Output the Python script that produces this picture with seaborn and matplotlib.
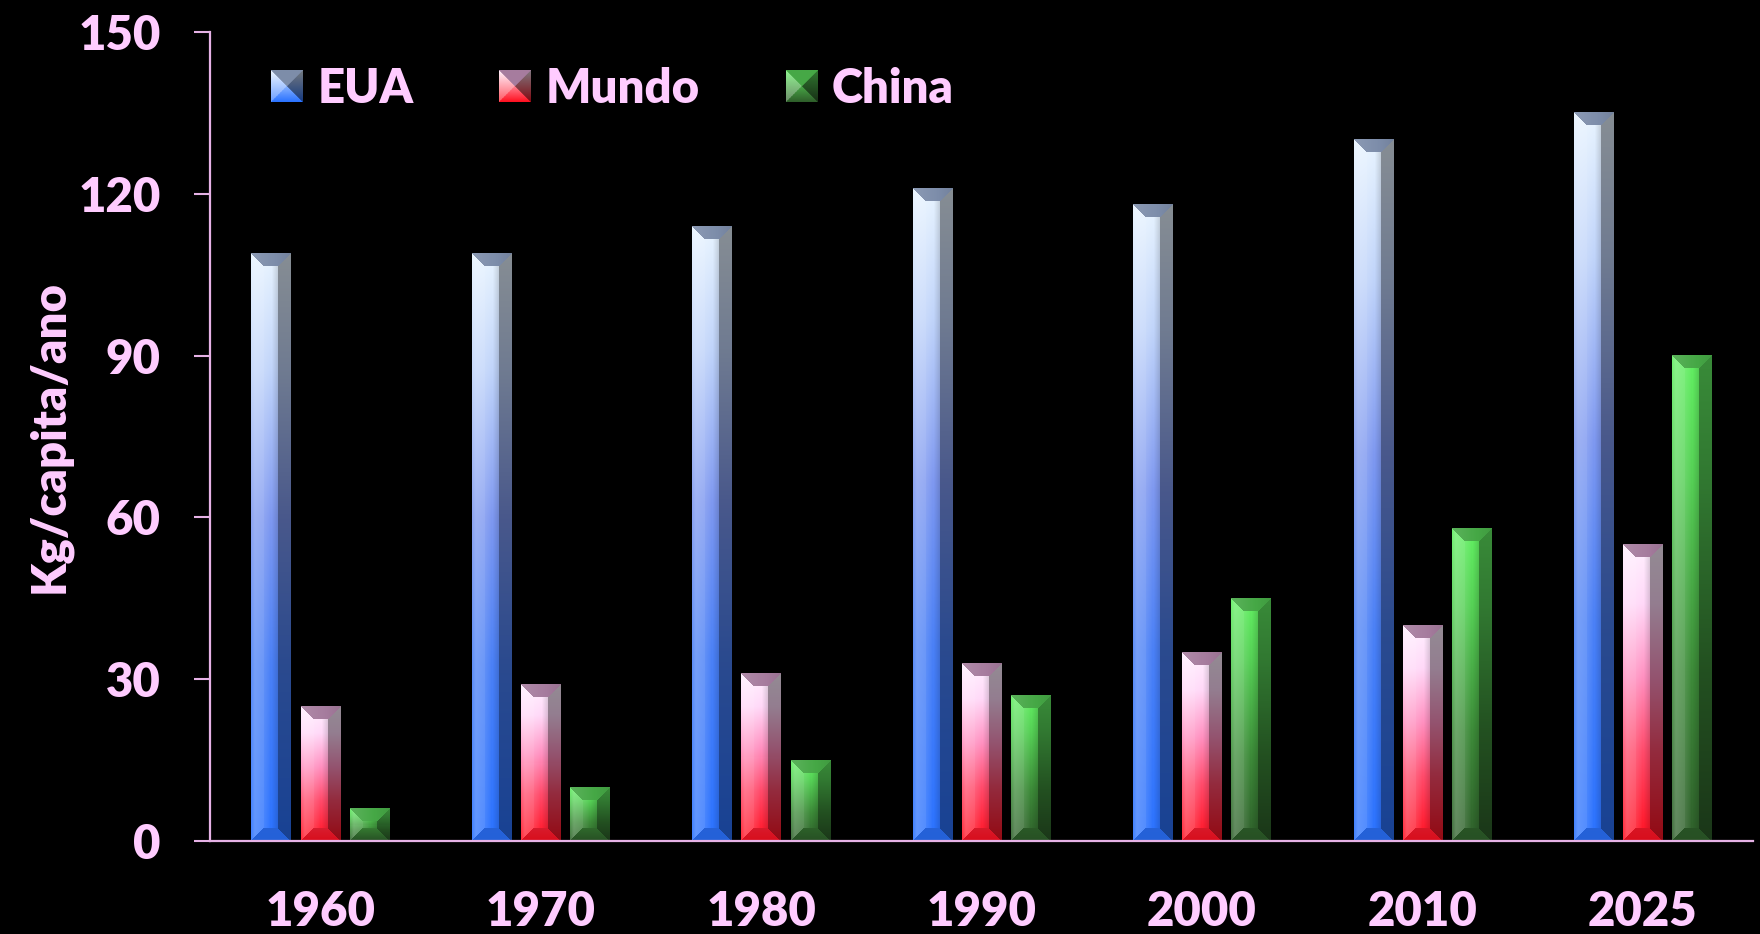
import numpy as np
import pandas as pd
import matplotlib
matplotlib.use("Agg")
import matplotlib.pyplot as plt
import seaborn as sns
from matplotlib.colors import to_rgb
from matplotlib.legend_handler import HandlerBase
from matplotlib.image import BboxImage
from matplotlib.transforms import Bbox, TransformedBbox
from matplotlib.patches import Rectangle

# ---- data -------------------------------------------------------------
years = ["1960", "1970", "1980", "1990", "2000", "2010", "2025"]
series = ["EUA", "Mundo", "China"]
eua = [109, 109, 114, 121, 118, 130, 135]
mundo = [25, 29, 31, 33, 35, 40, 55]
china = [6, 10, 15, 27, 45, 58, 90]
y_ticks = [0, 30, 60, 90, 120, 150]
y_label = "Kg/capita/ano"

df = pd.DataFrame({
    "ano": years * 3,
    "serie": [s for s in series for _ in years],
    "valor": eua + mundo + china,
})

# ---- style ------------------------------------------------------------
TEXT = "#FFCCFF"
AXIS = "#E6B2E6"
FS = 34
WEIGHT = "heavy"

sns.set_theme(style="white")
plt.rcParams["font.family"] = ["Lato", "DejaVu Sans"]
plt.rcParams["font.weight"] = WEIGHT

# front-face gradients, bottom -> top
gradients = {
    "EUA": [(0.0, "#2A72FF"), (0.3, "#4A80F6"), (0.55, "#7E98F0"),
            (0.8, "#C0D4FA"), (1.0, "#E8F4FF")],
    "Mundo": [(0.0, "#FF1020"), (0.3, "#FF4A6A"), (0.55, "#FF90C0"),
              (0.8, "#FFD8F8"), (1.0, "#FFF0FF")],
    "China": [(0.0, "#2E5E2A"), (0.35, "#3C8A38"), (0.75, "#55D055"),
              (1.0, "#62F062")],
}
top_face = {"EUA": "#7D8DAA", "Mundo": "#A67C9E", "China": "#46A846"}


def tint(c, s):
    s = np.asarray(s)[..., None] if np.ndim(s) else s
    return np.where(s > 0, c + (1 - c) * s, c * (1 + s))


def bar_image(name, w, h, bevel=13):
    """Bevelled bar face: mitred frame around a shaded gradient panel."""
    w, h = max(int(w), 2), max(int(h), 2)
    stops = gradients[name]
    pos = [p for p, _ in stops]
    cols = np.array([to_rgb(c) for _, c in stops])
    t = 1 - (np.arange(h) + 0.5) / h
    base = np.stack([np.interp(t, pos, cols[:, k]) for k in range(3)], -1)
    base = np.broadcast_to(base[:, None, :], (h, w, 3)).copy()

    i = np.arange(h)[:, None] * np.ones((1, w))
    j = np.ones((h, 1)) * np.arange(w)[None, :]
    d_top, d_left, d_bot, d_right = i, j, h - 1 - i, w - 1 - j
    b = min(bevel, w // 2, h // 2)
    dmin = np.minimum.reduce([d_top, d_left, d_bot, d_right])
    center = dmin >= b

    u = (j + 0.5) / w
    shade = np.interp(u, [0, 0.3, 0.45, 0.6, 0.75, 1],
                      [0.2, 0.15, 0.05, -0.08, -0.22, -0.25])
    img = tint(base, shade)

    frame = ~center
    top = frame & (d_top == dmin)
    right = frame & (d_right == dmin) & ~top
    bot = frame & (d_bot == dmin) & ~top & ~right
    left = frame & ~top & ~right & ~bot

    img[left] = tint(base[left], np.interp(u[left], [0, 0.1, 0.35], [0.1, 0.25, 0.18]))
    img[right] = tint(base[right], -0.42)
    img[bot] = tint(base[bot], -0.15)
    tf = np.array(to_rgb(top_face[name]))
    img[top] = tint(np.broadcast_to(tf, base[top].shape),
                    np.interp(u[top], [0, 1], [0.12, -0.08]))
    return np.clip(img, 0, 1)


def swatch_image(name, n=64):
    """Square legend key built from four shaded triangles."""
    stops = gradients[name]
    c_low = np.array(to_rgb(stops[0][1]))
    c_high = np.array(to_rgb(stops[-1][1]))
    tf = np.array(to_rgb(top_face[name]))
    yy, xx = np.mgrid[0:n, 0:n] / (n - 1)
    img = np.zeros((n, n, 3))
    top = (yy <= xx) & (yy <= 1 - xx)
    right = (xx >= yy) & (xx >= 1 - yy) & ~top
    bot = (yy >= xx) & (yy >= 1 - xx) & ~top & ~right
    left = ~top & ~right & ~bot
    mix = yy[..., None]
    grad = c_high * (1 - mix) + c_low * mix
    img[top] = tf
    img[right] = tint(grad[right], -0.5)
    img[bot] = grad[bot]
    img[left] = tint(grad[left], 0.3)
    return img


class SwatchHandler(HandlerBase):
    def __init__(self, img):
        super().__init__()
        self.img = img

    def create_artists(self, legend, orig_handle, xdescent, ydescent,
                       width, height, fontsize, trans):
        side = width
        y0 = -ydescent + (height - side) / 2
        bb = TransformedBbox(Bbox.from_bounds(-xdescent, y0, side, side), trans)
        im = BboxImage(bb, interpolation="bilinear")
        im.set_data(self.img)
        return [im]


# ---- figure -----------------------------------------------------------
W, H, DPI = 1760, 934, 100
fig = plt.figure(figsize=(W / DPI, H / DPI), dpi=DPI, facecolor="black")
ax = fig.add_axes([210 / W, 1 - 841 / H, 1543 / W, (841 - 32) / H])
ax.set_facecolor("black")

sns.barplot(data=df, x="ano", y="valor", hue="serie", order=years,
            hue_order=series, width=0.668, gap=0.2, legend=False,
            palette=["#2A72FF", "#FF1020", "#3C8A38"], ax=ax, errorbar=None)

ax.set_xlim(-0.5, len(years) - 0.5)
ax.set_ylim(0, 150)

# replace flat bars with bevelled gradient images
for name, cont in zip(series, ax.containers):
    for p in cont.patches:
        x0, w, hgt = p.get_x(), p.get_width(), p.get_height()
        (px0, py0), (px1, py1) = ax.transData.transform([(x0, 0), (x0 + w, hgt)])
        img = bar_image(name, round(px1 - px0), round(py1 - py0))
        ax.imshow(img, extent=(x0, x0 + w, 0, hgt), aspect="auto",
                  interpolation="nearest", zorder=2)
        p.set_visible(False)

ax.set_xlim(-0.5, len(years) - 0.5)
ax.set_ylim(0, 150)
ax.set_yticks(y_ticks)
ax.set_xlabel("")
ax.set_ylabel(y_label, fontsize=FS, color=TEXT, fontweight=WEIGHT, labelpad=5)

for s in ["top", "right"]:
    ax.spines[s].set_visible(False)
for s in ["left", "bottom"]:
    ax.spines[s].set_color(AXIS)
    ax.spines[s].set_linewidth(1.6)
    ax.spines[s].set_zorder(3)

ax.tick_params(axis="y", left=True, direction="out", length=11.5, width=1.5,
               color=AXIS, labelcolor=TEXT, labelsize=FS, pad=24)
ax.tick_params(axis="x", bottom=False, length=0, labelcolor=TEXT,
               labelsize=FS, pad=35)
for lab in ax.get_xticklabels() + ax.get_yticklabels():
    lab.set_fontweight(WEIGHT)

# legend with bevelled swatches
handles = [Rectangle((0, 0), 1, 1) for _ in series]
hmap = {h: SwatchHandler(swatch_image(n)) for h, n in zip(handles, series)}
leg = ax.legend(handles, series, handler_map=hmap, loc="upper left",
                bbox_to_anchor=(271 / W, 1 - 67 / H),
                bbox_transform=fig.transFigure, ncol=3, frameon=False,
                fontsize=FS, handlelength=0.66, handleheight=0.66,
                handletextpad=0.32, columnspacing=1.82, borderpad=0,
                borderaxespad=0)
for t in leg.get_texts():
    t.set_color(TEXT)
    t.set_fontweight(WEIGHT)

fig.savefig("out.png", dpi=DPI, facecolor="black")
